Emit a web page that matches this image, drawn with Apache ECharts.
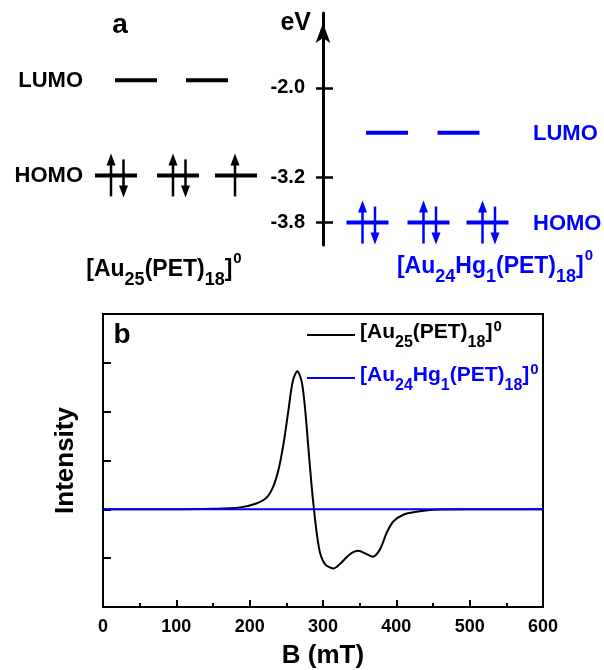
<!DOCTYPE html>
<html>
<head>
<meta charset="utf-8">
<script src="https://cdn.jsdelivr.net/npm/echarts@6/dist/echarts.min.js"></script>
<style>
html,body{margin:0;padding:0;background:#fff;}
#chart{width:604px;height:670px;}
</style>
</head>
<body>
<div id="chart"></div>
<script>
// ---------------- data ----------------
const compounds = ['[Au_{25}(PET)_{18}]^{0}', '[Au_{24}Hg_{1}(PET)_{18}]^{0}'];
const levelNames = ['LUMO', 'HOMO'];
const lumoEnergies = [-1.9, -2.6];          // eV
const homoEnergies = [-3.17, -3.8];         // eV
const lumoOccupancy = [[0, 0], [0, 0]];
const homoOccupancy = [[2, 2, 1], [2, 2, 2]];
const energyTicks = [-2.0, -3.2, -3.8];

const fieldB = [0, 50, 100, 150, 187, 209, 223, 232, 239, 246, 252.7, 258.6, 265, 271, 275.5, 280, 284.6, 287.7, 291.4, 296, 302.7, 314, 323, 336.8, 348, 359.6, 367.7, 377.7, 386.8, 395.9, 409.5, 427.7, 450.4, 500, 550, 600];
const intensityAu25 = [0, 0, 0.002, 0.01, 0.04, 0.12, 0.24, 0.46, 0.79, 1.33, 2.01, 2.61, 2.83, 2.61, 2.07, 1.27, 0.46, 0, -0.48, -0.89, -1.12, -1.21, -1.12, -0.92, -0.85, -0.92, -0.97, -0.82, -0.48, -0.25, -0.11, -0.05, -0.01, 0, 0, 0];
const fieldBHg = [0, 100, 200, 300, 400, 500, 600];
const intensityAu24Hg = [0, 0, 0, 0, 0, 0, 0];

// ---------------- layout / style ----------------
const colors = ['#000000', '#0000ff'];
const FONT = '"Liberation Sans", Arial, sans-serif';
const layout = {
  lumoSlots: [[-187, -116], [64, 135.5]],      // px offsets from energy axis
  homoSlots: [[-207, -145, -87], [44.5, 105.5, 164.5]],
  labelX: [-240, 210],
  labelAlign: ['right', 'left'],
  halfWidth: 21
};

function toRich(s) {
  let out = '', last = 0, m;
  const re = /([_^])\{([^}]*)\}/g;
  while ((m = re.exec(s))) {
    if (m.index > last) out += '{m|' + s.slice(last, m.index) + '}';
    out += '{' + (m[1] === '_' ? 's' : 'p') + '|' + m[2] + '}';
    last = re.lastIndex;
  }
  if (last < s.length) out += '{m|' + s.slice(last) + '}';
  return out;
}

// level items: [xOffset, energy, electrons, group]
const levelData = [];
for (let g = 0; g < 2; g++) {
  lumoOccupancy[g].forEach((n, i) => levelData.push([layout.lumoSlots[g][i], lumoEnergies[g], n, g]));
  homoOccupancy[g].forEach((n, i) => levelData.push([layout.homoSlots[g][i], homoEnergies[g], n, g]));
}
const labelData = [];
for (let g = 0; g < 2; g++) {
  labelData.push([layout.labelX[g], lumoEnergies[g], 0, g]);
  labelData.push([layout.labelX[g], homoEnergies[g], 1, g]);
}

function arrow(x, y, up, color) {
  const els = [];
  if (up) {
    els.push({type: 'line', shape: {x1: x, y1: y + 21, x2: x, y2: y - 12}, style: {stroke: color, lineWidth: 2.5}});
    els.push({type: 'polygon', shape: {points: [[x, y - 22], [x - 4.5, y - 10], [x + 4.5, y - 10]]}, style: {fill: color}});
  } else {
    els.push({type: 'line', shape: {x1: x, y1: y - 16, x2: x, y2: y + 12}, style: {stroke: color, lineWidth: 2.5}});
    els.push({type: 'polygon', shape: {points: [[x, y + 22], [x - 4.5, y + 10], [x + 4.5, y + 10]]}, style: {fill: color}});
  }
  return els;
}

function renderLevel(params, api) {
  const g = api.value(3), n = api.value(2);
  const c = api.coord([api.value(0), api.value(1)]);
  const color = colors[g];
  let children = [{type: 'line', shape: {x1: c[0] - layout.halfWidth, y1: c[1], x2: c[0] + layout.halfWidth, y2: c[1]}, style: {stroke: color, lineWidth: 4}}];
  if (n === 2) {
    children = children.concat(arrow(c[0] - 5, c[1], true, color), arrow(c[0] + 7.5, c[1], false, color));
  } else if (n === 1) {
    children = children.concat(arrow(c[0] - 1, c[1], true, color));
  }
  return {type: 'group', children};
}

function renderLabel(params, api) {
  const g = api.value(3);
  const c = api.coord([api.value(0), api.value(1)]);
  return {type: 'text', x: c[0], y: c[1] + 1, style: {text: levelNames[api.value(2)], fill: colors[g], font: 'bold 22px ' + FONT, align: layout.labelAlign[g], verticalAlign: 'middle'}};
}

const richA = {
  m: {fontSize: 23, fontWeight: 'bold', fontFamily: FONT, verticalAlign: 'top', padding: [7, 0, 0, 0]},
  s: {fontSize: 18, fontWeight: 'bold', fontFamily: FONT, verticalAlign: 'top', padding: [20, 0, 0, 0]},
  p: {fontSize: 15, fontWeight: 'bold', fontFamily: FONT, verticalAlign: 'top', padding: [0, 0, 0, 1]}
};
function richLegend(color) {
  return {
    m: {fontSize: 21, fontWeight: 'bold', fontFamily: FONT, color, verticalAlign: 'top', padding: [3, 0, 0, 0]},
    s: {fontSize: 16, fontWeight: 'bold', fontFamily: FONT, color, verticalAlign: 'top', padding: [16, 0, 0, 0]},
    p: {fontSize: 15, fontWeight: 'bold', fontFamily: FONT, color, verticalAlign: 'top', padding: [0, 0, 0, 1]}
  };
}

const chart = echarts.init(document.getElementById('chart'), null, {renderer: 'canvas'});
const option = {
  animation: false,
  backgroundColor: '#fff',
  grid: [
    {left: 0, right: 0, top: 13, height: 232, show: false},
    {left: 103, top: 314, width: 440, height: 294, show: true, borderColor: '#000', borderWidth: 2, backgroundColor: 'transparent'}
  ],
  xAxis: [
    {gridIndex: 0, type: 'value', min: -323, max: 281, show: false},
    {
      gridIndex: 1, type: 'value', min: 0, max: 600, interval: 100,
      axisLine: {onZero: false, lineStyle: {color: '#000', width: 2}},
      axisTick: {inside: true, length: 7, lineStyle: {color: '#000', width: 2}},
      minorTick: {show: true, splitNumber: 2, length: 4, lineStyle: {color: '#000', width: 2}},
      axisLabel: {color: '#000', fontSize: 18, fontWeight: 'bold', fontFamily: FONT, margin: 11},
      splitLine: {show: false},
      name: 'B (mT)', nameLocation: 'middle', nameGap: 36,
      nameTextStyle: {color: '#000', fontSize: 26, fontWeight: 'bold', fontFamily: FONT}
    }
  ],
  yAxis: [
    {
      gridIndex: 0, type: 'value', min: -4.1, max: -1.0, position: 'left', offset: -323,
      axisLine: {onZero: false, symbol: ['none', 'arrow'], symbolSize: [11, 20], symbolOffset: [0, -10], lineStyle: {color: '#000', width: 3}},
      axisTick: {customValues: energyTicks, length: 7, lineStyle: {color: '#000', width: 2.5}},
      axisLabel: {customValues: energyTicks, formatter: v => v.toFixed(1), color: '#000', fontSize: 20, fontWeight: 'bold', fontFamily: FONT, margin: 18},
      splitLine: {show: false},
      name: 'eV', nameLocation: 'end', nameGap: -10,
      nameTextStyle: {color: '#000', fontSize: 25, fontWeight: 'bold', fontFamily: FONT, align: 'right', verticalAlign: 'middle', padding: [0, 12, 0, 0]}
    },
    {
      gridIndex: 0, type: 'value', min: -4.1, max: -1.0, position: 'left', offset: -323,
      axisLine: {show: false, onZero: false},
      axisTick: {inside: true, customValues: energyTicks, length: 10, lineStyle: {color: '#000', width: 2.5}},
      axisLabel: {show: false},
      splitLine: {show: false}
    },
    {
      gridIndex: 1, type: 'value', min: -2, max: 4, interval: 1,
      axisLine: {onZero: false, lineStyle: {color: '#000', width: 2}},
      axisTick: {inside: true, length: 8, lineStyle: {color: '#000', width: 2}},
      axisLabel: {show: false},
      splitLine: {show: false},
      name: 'Intensity', nameLocation: 'middle', nameGap: 24, nameRotate: 90,
      nameTextStyle: {color: '#000', fontSize: 26, fontWeight: 'bold', fontFamily: FONT}
    }
  ],
  legend: [
    {
      data: [compounds[0]], left: 302, top: 314, orient: 'vertical', icon: 'rect', itemWidth: 48, itemHeight: 2,
      formatter: toRich, textStyle: {color: colors[0], rich: richLegend(colors[0])}
    },
    {
      data: [compounds[1]], left: 302, top: 357, orient: 'vertical', icon: 'rect', itemWidth: 48, itemHeight: 2,
      formatter: toRich, textStyle: {color: colors[1], rich: richLegend(colors[1])}
    }
  ],
  series: [
    {type: 'custom', xAxisIndex: 0, yAxisIndex: 0, renderItem: renderLevel, data: levelData, silent: true},
    {type: 'custom', xAxisIndex: 0, yAxisIndex: 0, renderItem: renderLabel, data: labelData, silent: true},
    {
      name: compounds[0], type: 'line', xAxisIndex: 1, yAxisIndex: 2,
      data: fieldB.map((b, i) => [b, intensityAu25[i]]),
      showSymbol: false, smooth: 0.3, lineStyle: {color: colors[0], width: 2}, itemStyle: {color: colors[0]}
    },
    {
      name: compounds[1], type: 'line', xAxisIndex: 1, yAxisIndex: 2,
      data: fieldBHg.map((b, i) => [b, intensityAu24Hg[i]]),
      showSymbol: false, lineStyle: {color: colors[1], width: 2}, itemStyle: {color: colors[1]}
    }
  ],
  graphic: [
    {type: 'text', x: 120, y: 25, style: {text: 'a', font: 'bold 28px ' + FONT, fill: '#000', align: 'center', verticalAlign: 'middle'}},
    {type: 'text', x: 122, y: 335, style: {text: 'b', font: 'bold 28px ' + FONT, fill: '#000', align: 'center', verticalAlign: 'middle'}},
    {type: 'text', x: 164, y: 270, style: {text: toRich(compounds[0]), rich: richA, fill: colors[0], align: 'center', verticalAlign: 'middle'}},
    {type: 'text', x: 495, y: 267, style: {text: toRich(compounds[1]), rich: richA, fill: colors[1], align: 'center', verticalAlign: 'middle'}}
  ]
};
chart.setOption(option);
</script>
</body>
</html>
